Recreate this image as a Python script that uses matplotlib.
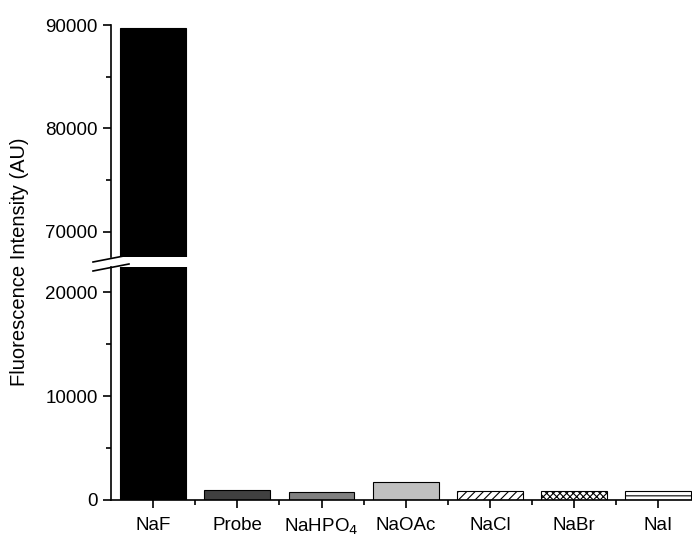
import matplotlib
matplotlib.use("Agg")
import matplotlib.pyplot as plt
from matplotlib.ticker import MultipleLocator
from matplotlib.lines import Line2D

# data
salts = ["NaF", "Probe", "NaHPO$_4$", "NaOAc", "NaCl", "NaBr", "NaI"]
intensity = [89700, 960, 740, 1760, 870, 870, 850]
fills = ["#000000", "#404040", "#808080", "#c0c0c0", "white", "white", "white"]
hatches = [None, None, None, None, "////", "xxxxx", "--"]

plt.rcParams["font.family"] = ["Liberation Sans", "DejaVu Sans"]
plt.rcParams["hatch.linewidth"] = 0.8

fig = plt.figure(figsize=(6.92, 5.37), dpi=100)
W, H = 692, 537


def px_axes(x0, y_top, x1, y_bot):
    return fig.add_axes([x0 / W, (H - y_bot) / H, (x1 - x0) / W, (y_bot - y_top) / H])


ax_top = px_axes(111, 25, 692, 257)
ax_bot = px_axes(111, 267, 692, 500)

x = list(range(len(salts)))
for ax in (ax_top, ax_bot):
    for i, v in enumerate(intensity):
        ax.bar(i, v, width=0.78, color=fills[i], edgecolor="black",
               linewidth=0.8, hatch=hatches[i], zorder=2)
    ax.set_xlim(-0.5, 6.4)
    for s in ("top", "right"):
        ax.spines[s].set_visible(False)
    ax.spines["left"].set_linewidth(1.2)
    ax.spines["bottom"].set_linewidth(1.2)
    ax.yaxis.set_major_locator(MultipleLocator(10000))
    ax.yaxis.set_minor_locator(MultipleLocator(5000))
    ax.tick_params(axis="y", which="major", direction="out", length=6, width=1.2, labelsize=13.5)
    ax.tick_params(axis="y", which="minor", direction="out", length=3.5, width=1.2)

ax_top.set_ylim(67550, 90000)
ax_top.spines["bottom"].set_visible(False)
ax_top.set_xticks([])
ax_top.tick_params(axis="x", which="both", bottom=False)

ax_bot.set_ylim(0, 22450)
ax_bot.set_xticks(x)
ax_bot.set_xticklabels(salts)
ax_bot.set_xticks([i + 0.5 for i in x[:-1]], minor=True)
ax_bot.tick_params(axis="x", which="major", direction="out", length=6, width=1.2, labelsize=13.5, pad=6)
ax_bot.tick_params(axis="x", which="minor", direction="out", length=3.5, width=1.2)

# axis break marks
for y0 in (262, 271):
    fig.add_artist(Line2D([93 / W, 129 / W], [(H - y0) / H, (H - y0 + 7) / H],
                          color="black", linewidth=1.2))

fig.text(20 / W, (H - 262) / H, "Fluorescence Intensity (AU)", rotation=90,
         ha="center", va="center", fontsize=14.5)

fig.savefig("out.png", dpi=100)
